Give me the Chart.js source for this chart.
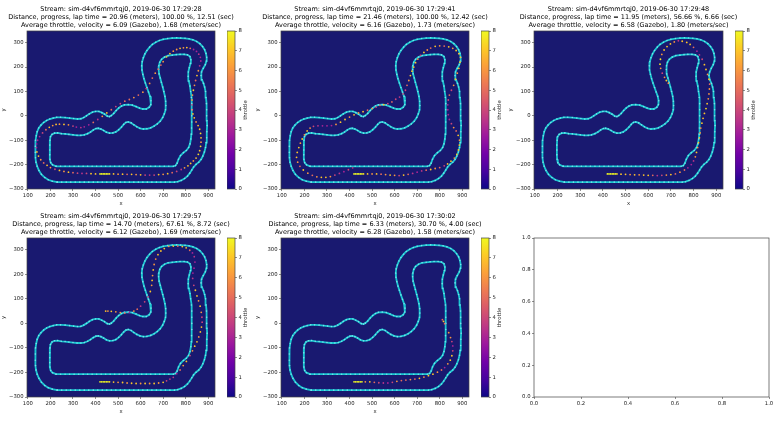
<!DOCTYPE html>
<html>
<head>
<meta charset="utf-8">
<style>
    html, body { margin: 0; padding: 0; background: #fff; }
    #page { position: relative; width: 783px; height: 421px; overflow: hidden; filter: blur(0.3px); }
    #page canvas { position: absolute; }
</style>
<script src="https://cdn.jsdelivr.net/npm/chart.js@4/dist/chart.umd.min.js"></script>
</head>
<body>
<div id="page"></div>
<script>
// ===== Track borders (same in every panel) =====
const outerX = [230,250,270,290,310,330,350,370,390,410,430,450,470,490,510,530,550,570,590,610,630,650,670,690,710,730,750,765,780,795,808,818,827,835,846,858,868,876,883,888,891,893,894,895,894,893,893,892,890,888,884,879,872,868,871,878,887,892,893,890,884,875,863,849,832,815,797,778,760,740,720,700,683,667,652,640,628,619,612,607,605,606,610,615,621,628,635,642,646,645,638,625,610,595,580,563,545,528,515,503,492,481,470,462,452,440,428,415,400,386,372,360,348,335,320,303,285,265,245,228,212,197,183,170,158,148,141,137,134,133,133,134,136,141,149,160,175,190,208,230];
const outerY = [-272,-272,-272,-272,-272,-272,-272,-272,-272,-272,-272,-272,-272,-272,-272,-272,-272,-272,-272,-272,-272,-272,-272,-272,-272,-272,-272,-270,-265,-257,-247,-235,-222,-210,-199,-190,-179,-165,-148,-130,-110,-90,-65,-40,-20,0,25,50,75,100,118,133,148,165,180,195,210,225,240,256,271,284,296,305,312,316,318,319,320,319,317,314,309,302,293,282,268,254,238,222,205,188,170,152,135,116,98,80,62,46,35,28,28,32,38,44,46,45,40,32,22,10,1,-3,-1,7,13,18,18,15,8,0,-7,-12,-13,-11,-9,-7,-6,-6,-9,-13,-19,-27,-38,-50,-65,-82,-100,-125,-150,-172,-190,-207,-224,-240,-253,-262,-268,-272];
const innerX = [225,245,265,285,305,325,345,365,385,405,425,445,465,485,505,525,545,565,585,605,625,645,665,685,705,725,745,755,762,768,777,790,803,813,819,823,825,826,827,827,827,827,825,822,819,814,811,812,816,821,823,819,808,793,775,758,740,722,706,693,685,681,680,682,687,692,698,703,708,711,712,710,705,698,687,674,660,645,628,612,597,583,570,558,545,535,525,515,503,490,477,462,448,436,424,412,402,390,378,365,350,335,318,300,282,265,248,232,218,207,200,198,197,197,197,198,201,209,225];
const innerY = [-207,-207,-207,-207,-207,-207,-207,-207,-207,-207,-207,-207,-207,-207,-207,-207,-207,-207,-207,-207,-207,-207,-207,-207,-207,-207,-207,-204,-194,-178,-163,-151,-142,-130,-115,-95,-75,-50,-25,0,25,50,75,100,122,143,162,180,197,215,230,243,250,252,252,251,249,247,241,232,220,205,190,172,155,138,118,100,80,60,42,25,8,-7,-22,-33,-42,-49,-53,-54,-51,-45,-37,-29,-25,-27,-35,-46,-57,-66,-70,-71,-67,-60,-54,-51,-52,-58,-66,-73,-78,-80,-80,-78,-76,-74,-73,-70,-71,-76,-86,-100,-120,-140,-160,-178,-192,-201,-207];

// ===== Car positions and throttle, one set per stream =====
const lap1X = [420,427,434,441,448,455,462,480,500,520,540,560,580,600,620,640,660,680,700,720,740,760,780,795,810,822,834,846,856,862,866,868,868,866,862,855,846,838,832,829,828,828,830,834,839,844,850,856,862,867,865,858,848,835,820,805,790,775,760,745,730,715,700,690,678,665,652,640,625,610,590,570,550,530,510,490,470,450,430,410,390,370,350,335,315,300,280,260,240,225,210,195,180,165,152,143,139,138,140,147,157,170,185,200,220,240,260,280,300,320,340,360,380,400];
const lap1Y = [-238,-238,-238,-238,-238,-238,-238,-238,-239,-239,-240,-240,-241,-242,-243,-243,-243,-241,-240,-237,-233,-228,-220,-213,-205,-195,-185,-173,-158,-143,-125,-108,-90,-72,-55,-40,-25,-8,8,25,45,65,85,105,125,145,165,185,205,225,240,253,264,272,277,280,279,277,272,265,255,242,222,208,192,175,155,133,112,97,85,75,67,60,50,38,25,12,-2,-15,-27,-37,-45,-48,-46,-42,-37,-35,-34,-35,-40,-47,-57,-70,-85,-100,-115,-130,-148,-165,-180,-193,-203,-212,-219,-224,-228,-231,-233,-235,-236,-236,-237,-238];
const lap1Throttle = [8,8,8,8,8,8,7.5,7,6,7,5,7,6,7,4,3.5,4,7,6,7,5,4,3.5,6,7,7,6,7,7.5,7,7.5,6,7,7.5,7,7,6,7,7,5,4,6,6,7,6,5,7,6,3.5,3,3,3.5,3,3,5,7,6,7,6,6,7,7,6,5,5,6,5,6,4,6,5,6,5,5,4,4,5,7,6,3.5,5,3,3,3.5,3,4,6,7,6,7,6,7,5,4,3,3,2.5,3,7,7,6,5,7,6,4,7,6,7,5,4,3.5,4,7,7];

const lap2X = [420,427,434,441,448,455,462,480,500,520,540,560,580,600,620,640,660,680,700,720,740,760,780,800,820,835,850,865,876,883,887,888,882,873,862,852,843,838,836,836,838,843,852,862,870,878,885,890,892,885,873,858,840,820,800,780,760,745,730,715,703,693,685,677,670,663,655,648,638,622,605,588,570,552,535,518,500,480,460,440,420,400,380,360,340,320,300,280,260,240,225,212,200,190,182,175,168,165,170,180,195,215,235,255,275,295,315,335,355,375,395,414];
const lap2Y = [-238,-238,-238,-238,-238,-238,-238,-238,-238,-238,-239,-241,-243,-244,-245,-243,-240,-236,-231,-226,-223,-220,-216,-212,-205,-197,-186,-173,-158,-140,-120,-100,-80,-62,-48,-32,-15,5,25,45,65,85,105,125,150,175,195,220,240,255,268,277,283,286,287,285,278,270,260,248,233,218,200,183,165,145,125,105,90,77,68,57,50,46,43,36,30,23,17,12,4,-5,-15,-26,-35,-40,-41,-41,-41,-43,-50,-62,-78,-95,-112,-130,-150,-170,-190,-207,-222,-235,-244,-250,-252,-252,-249,-243,-236,-229,-221,-213];
const lap2Throttle = [8,8,8,8,8,8,7.5,7,6,7,5,6,7,6,4,7,5,3.5,3,3.5,5,7,6,5,4,7,7,6,7,7,7,6,7,5,6,4,3,3,3,3,4,5,4,6,7,6,7,7,7,7,7,6,7,5,6,7,5,6,7,4,6,7,7,7,7,6,5,4,4,3.5,4,5,4,7,5,4,6,5,7,6,7,6,7,7,6,3,3,3,3.5,4,6,7,6,7,6,7,7,7,6,5,7,6,5,6,7,7,6,4,3.5,3,4,3.5];

const lap3X = [420,427,434,441,448,455,462,480,500,520,540,560,580,600,620,640,660,680,700,720,740,760,775,790,800,808,813,818,822,826,829,832,837,842,848,855,860,865,868,870,871,868,862,855,848,838,826,815,800,785,770,750,733,715,698,683,670,660,654,652,655,662,672,680,689];
const lap3Y = [-238,-238,-238,-238,-238,-238,-238,-239,-240,-241,-242,-242,-243,-244,-244,-245,-244,-243,-241,-238,-231,-222,-213,-200,-185,-168,-150,-130,-110,-90,-70,-50,-30,-10,10,30,50,70,90,110,130,150,170,190,210,232,250,265,281,293,301,306,308,303,295,284,270,252,232,212,195,175,158,145,134];
const lap3Throttle = [8,8,8,8,8,8,7.5,7,7,6,7,6,7,7,5,3.5,4,6,7,5,6,5,3,3,3.5,6,7,6,7,7,6,6,7,7,7,7.5,7,6,6,6,5,7,6,7,7,4,3.5,3,5,7,7,7,3.5,6,7,7,7,6,7.5,7.5,6,4,6,7,6];

const lap4X = [420,427,434,441,448,455,462,480,500,520,540,560,580,600,620,640,660,680,700,715,730,745,760,775,789,803,819,830,840,850,858,865,870,873,872,869,864,857,850,843,836,831,832,837,841,838,830,818,802,785,765,745,725,705,690,677,667,660,656,653,651,649,643,633,618,600,585,570,550,530,510,490,470,455,445];
const lap4Y = [-238,-238,-238,-238,-238,-238,-238,-239,-240,-241,-243,-244,-245,-245,-245,-245,-245,-243,-240,-234,-227,-220,-205,-190,-172,-155,-131,-112,-93,-75,-55,-35,-15,5,25,45,70,92,112,135,155,183,205,225,250,272,287,298,308,313,315,315,314,305,295,280,262,240,218,195,175,155,130,108,88,70,58,50,45,42,44,47,49,50,50];
const lap4Throttle = [8,8,8,8,8,8,7.5,7,6,7,6,7,7,6,7,6,7,6,7,4,3.5,3.5,3,5,6,7,4,6,7,7,6,7,7,4,4,6,7,6,7,7,4,3.5,3,3,3,3.5,3,5,7,7,5,7,6,7,7,7,6,6,7,6,7,6,7,4,4,3.5,5,6,3,5,6,6,7,6,7];

const lap5X = [420,427,434,441,448,455,470,490,510,530,550,570,590,610,630,650,670,690,710,730,750,770,790,808,822,836,847,854,858,858,854,848,840,822,817,812];
const lap5Y = [-238,-238,-238,-238,-238,-238,-238,-238,-240,-242,-243,-243,-240,-236,-233,-231,-229,-227,-224,-219,-213,-207,-199,-190,-180,-165,-150,-132,-112,-92,-74,-58,-38,-1,8,15];
const lap5Throttle = [8,8,8,8,8,8,6,7,5,4,3.5,3,4,6,5,5,6,5,7,6,7,7,6,5,3,6,7,7,4,3,4,6,6,5,7,5];

// ===== Titles =====
const streamTitles = [
    ['Stream: sim-d4vf6mmrtqj0, 2019-06-30 17:29:28',
     'Distance, progress, lap time = 20.96 (meters), 100.00 %, 12.51 (sec)',
     'Average throttle, velocity = 6.09 (Gazebo), 1.68 (meters/sec)'],
    ['Stream: sim-d4vf6mmrtqj0, 2019-06-30 17:29:41',
     'Distance, progress, lap time = 21.46 (meters), 100.00 %, 12.42 (sec)',
     'Average throttle, velocity = 6.16 (Gazebo), 1.73 (meters/sec)'],
    ['Stream: sim-d4vf6mmrtqj0, 2019-06-30 17:29:48',
     'Distance, progress, lap time = 11.95 (meters), 56.66 %, 6.66 (sec)',
     'Average throttle, velocity = 6.58 (Gazebo), 1.80 (meters/sec)'],
    ['Stream: sim-d4vf6mmrtqj0, 2019-06-30 17:29:57',
     'Distance, progress, lap time = 14.70 (meters), 67.61 %, 8.72 (sec)',
     'Average throttle, velocity = 6.12 (Gazebo), 1.69 (meters/sec)'],
    ['Stream: sim-d4vf6mmrtqj0, 2019-06-30 17:30:02',
     'Distance, progress, lap time = 6.33 (meters), 30.70 %, 4.00 (sec)',
     'Average throttle, velocity = 6.28 (Gazebo), 1.58 (meters/sec)']
];

// ===== Ticks =====
const xTicks = [100,200,300,400,500,600,700,800,900];
const yTicks = [-300,-200,-100,0,100,200,300];
const throttleTicks = [0,1,2,3,4,5,6,7,8];
const emptyTicks = [0,0.2,0.4,0.6,0.8,1];

// ===== Plasma colour map =====
const plasmaStops = ['#0d0887','#46039f','#7201a8','#9c179e','#bd3786','#d8576b','#ed7953','#fb9f3a','#fdca26','#f0f921'];

function throttleColor(t) {
    const pos = t / 8 * (plasmaStops.length - 1);
    const i = Math.min(Math.floor(pos), plasmaStops.length - 2);
    const f = pos - i;
    const rgb = s => [1, 3, 5].map(k => parseInt(s.slice(k, k + 2), 16));
    const a = rgb(plasmaStops[i]), b = rgb(plasmaStops[i + 1]);
    return `rgb(${a.map((v, k) => Math.round(v + (b[k] - v) * f)).join(',')})`;
}

// ===== Layout of the figure =====
const FONT = '"DejaVu Sans"';
const INK = '#222';
const TICK_SIZE = 5.3;
const TITLE_ROOM = 31;   // title block above the axes
const SIDE_ROOM = 27;    // y labels, same room kept on the right so the title stays centred
const BOTTOM_ROOM = 18;  // x labels
const rows = [{top: 31, h: 158}, {top: 238, h: 159}];
const cols = [{left: 27, w: 188}, {left: 281, w: 188}, {left: 534, w: 189}];
const CB_GAP = 12, CB_W = 8;

const page = document.getElementById('page');
function addCanvas(left, top, w, h) {
    const c = document.createElement('canvas');
    c.width = w; c.height = h;
    c.style.cssText = `left:${left}px;top:${top}px;width:${w}px;height:${h}px`;
    page.appendChild(c);
    return c;
}

// frame and background of an axes
const frame = {
    id: 'frame',
    beforeDraw(chart, args, opts) {
        if (!opts.fill) return;
        const a = chart.chartArea, ctx = chart.ctx;
        ctx.save();
        ctx.fillStyle = opts.fill;
        ctx.fillRect(a.left, a.top, a.right - a.left, a.bottom - a.top);
        ctx.restore();
    },
    afterDraw(chart) {
        const a = chart.chartArea, ctx = chart.ctx;
        ctx.save();
        ctx.strokeStyle = '#444';
        ctx.lineWidth = 0.7;
        ctx.strokeRect(a.left, a.top, a.right - a.left, a.bottom - a.top);
        ctx.restore();
    }
};

function axis(position, ticks, min, max, label, room, fmt) {
    return {
        type: 'linear', position, min, max,
        afterBuildTicks: s => { s.ticks = ticks.map(v => ({value: v})); },
        afterFit: s => { if (position === 'left') s.width = room; else s.height = room; },
        grid: {drawOnChartArea: false, drawTicks: true, tickLength: 2, color: '#444', lineWidth: 0.6},
        border: {display: false},
        ticks: {
            autoSkip: false, maxRotation: 0, padding: 1.5, color: INK,
            font: {family: FONT, size: TICK_SIZE},
            callback: fmt
        },
        title: {display: !!label, text: label, color: INK, padding: 0, font: {family: FONT, size: TICK_SIZE}}
    };
}
const intLabel = v => String(v).replace('-', '\u2212');

function drawLap(col, row, title, xs, ys, throttle) {
    const canvas = addCanvas(col.left - SIDE_ROOM, row.top - TITLE_ROOM,
        SIDE_ROOM + col.w + SIDE_ROOM, TITLE_ROOM + row.h + BOTTOM_ROOM);
    const pts = (a, b) => a.map((v, i) => ({x: v, y: b[i]}));
    const border = (a, b) => ({
        data: pts(a, b), showLine: true, borderColor: '#19c6d2', borderWidth: 1.8,
        pointRadius: 0.8, pointBackgroundColor: '#78e2e8', pointBorderWidth: 0
    });
    new Chart(canvas, {
        type: 'scatter',
        data: {datasets: [
            {data: pts(xs, ys), pointRadius: 0.9, pointBorderWidth: 0,
             pointBackgroundColor: throttle.map(throttleColor)},
            border(outerX, outerY),
            border(innerX, innerY)
        ]},
        options: {
            responsive: false, animation: false, devicePixelRatio: 1,
            scales: {
                x: axis('bottom', xTicks, 96, 930, 'x', BOTTOM_ROOM, intLabel),
                y: axis('left', yTicks, -300, 348, 'y', SIDE_ROOM, intLabel),
                // empty axis on the right, it only balances the y labels
                balance: {position: 'right', ticks: {display: false}, grid: {display: false},
                          border: {display: false}, afterFit: s => { s.width = SIDE_ROOM; }}
            },
            plugins: {
                legend: {display: false},
                tooltip: {enabled: false},
                frame: {fill: '#191970'},
                title: {
                    display: true, text: title, color: '#000',
                    padding: {top: 5, bottom: 2},
                    font: {family: FONT, size: 6.5, weight: 'normal', lineHeight: 1.23}
                }
            }
        },
        plugins: [frame]
    });
}

function drawColorbar(col, row) {
    const canvas = addCanvas(col.left + col.w + CB_GAP, row.top - 5, CB_W + 28, row.h + 10);
    new Chart(canvas, {
        type: 'bar',
        data: {
            labels: ['throttle'],
            datasets: [{
                data: [[0, 8]], barPercentage: 1, categoryPercentage: 1, borderWidth: 0, borderSkipped: false,
                backgroundColor: c => {
                    const a = c.chart.chartArea;
                    if (!a) return plasmaStops[0];
                    const g = c.chart.ctx.createLinearGradient(0, a.bottom, 0, a.top);
                    plasmaStops.forEach((s, i) => g.addColorStop(i / (plasmaStops.length - 1), s));
                    return g;
                }
            }]
        },
        options: {
            responsive: false, animation: false, devicePixelRatio: 1,
            layout: {padding: {top: 5, bottom: 5}},
            scales: {
                x: {display: false},
                y: {...axis('right', throttleTicks, 0, 8, '', 0, intLabel),
                    afterFit: s => { s.width = 28; }}
            },
            plugins: {legend: {display: false}, tooltip: {enabled: false}, frame: {}}
        },
        plugins: [frame, {
            id: 'cbLabel',
            afterDraw(chart) {
                const a = chart.chartArea, ctx = chart.ctx;
                ctx.save();
                ctx.translate(a.right + 11, (a.top + a.bottom) / 2);
                ctx.rotate(-Math.PI / 2);
                ctx.font = `${TICK_SIZE}px ${FONT}`;
                ctx.fillStyle = INK;
                ctx.textAlign = 'center';
                ctx.textBaseline = 'middle';
                ctx.fillText('throttle', 0, 0);
                ctx.restore();
            }
        }]
    });
}

function drawEmpty(row) {
    const left = 534, w = 235;
    const canvas = addCanvas(left - SIDE_ROOM, row.top - 5, SIDE_ROOM + w + 8, 5 + row.h + BOTTOM_ROOM);
    const fmt = v => v.toFixed(1);
    new Chart(canvas, {
        type: 'scatter',
        data: {datasets: [{data: []}]},
        options: {
            responsive: false, animation: false, devicePixelRatio: 1,
            layout: {padding: {top: 5, right: 8}},
            scales: {
                x: axis('bottom', emptyTicks, 0, 1, '', BOTTOM_ROOM, fmt),
                y: axis('left', emptyTicks, 0, 1, '', SIDE_ROOM, fmt)
            },
            plugins: {legend: {display: false}, tooltip: {enabled: false}, frame: {}}
        },
        plugins: [frame]
    });
}

// ===== Draw the figure =====
const laps = [
    [lap1X, lap1Y, lap1Throttle],
    [lap2X, lap2Y, lap2Throttle],
    [lap3X, lap3Y, lap3Throttle],
    [lap4X, lap4Y, lap4Throttle],
    [lap5X, lap5Y, lap5Throttle]
];
laps.forEach(([xs, ys, t], i) => {
    const col = cols[i % 3], row = rows[Math.floor(i / 3)];
    drawLap(col, row, streamTitles[i], xs, ys, t);
    drawColorbar(col, row);
});
drawEmpty(rows[1]);
</script>
</body>
</html>
